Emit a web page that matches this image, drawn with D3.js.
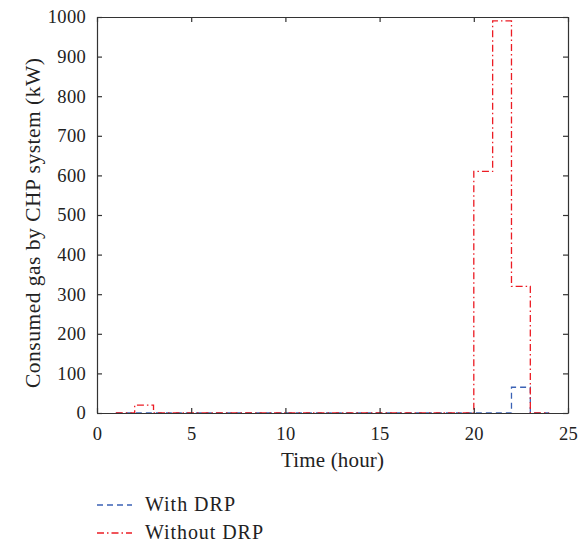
<!DOCTYPE html>
<html>
<head>
<meta charset="utf-8">
<script src="https://cdn.jsdelivr.net/npm/d3@7"></script>
<style>
  body { margin: 0; background: #fff; }
  text { font-family: "Liberation Serif", "DejaVu Serif", serif; fill: #222; }
</style>
</head>
<body>
<svg width="586" height="545"></svg>
<script>
// hours 1..24, stairs plot (value holds until next hour)
const hours = d3.range(1, 25);
const withDRP = [0,0,0,0,0,0,0,0,0,0,0,0,0,0,0,0,0,0,0,0,0,65,0,0];
const withoutDRP = [0,20,0,0,0,0,0,0,0,0,0,0,0,0,0,0,0,0,0,610,990,320,0,0];
const xTicks = [0, 5, 10, 15, 20, 25];
const yTicks = d3.range(0, 1001, 100);

const svg = d3.select("svg");
const mLeft = 97, mRight = 568, mTop = 17, mBottom = 413;

let x = d3.scaleLinear().domain([0, 25]).range([mLeft, mRight]);
let y = d3.scaleLinear().domain([0, 1000]).range([mBottom, mTop]);

let line = d3.line()
  .x((d) => x(d[0]))
  .y((d) => y(d[1]))
  .curve(d3.curveStepAfter);

const series = [
  { name: "With DRP", values: withDRP, color: "#3b62b5", dash: "6,4", w: 90 },
  { name: "Without DRP", values: withoutDRP, color: "#ec1c24", dash: "7,3,1.5,3", w: 118 },
];

series.forEach((s) => {
  svg.append("path")
    .datum(hours.map((h, i) => [h, s.values[i]]))
    .attr("fill", "none")
    .attr("stroke", s.color)
    .attr("stroke-width", 1.3)
    .attr("stroke-dasharray", s.dash)
    .attr("d", line);
});

// box + ticks (inward, matlab style)
const axisColor = "#333";
let gx = svg.append("g").attr("transform", `translate(0,${mBottom})`)
  .call(d3.axisBottom(x).tickValues(xTicks).tickSize(-5).tickPadding(14).tickSizeOuter(0));
let gxt = svg.append("g").attr("transform", `translate(0,${mTop})`)
  .call(d3.axisTop(x).tickValues(xTicks).tickSize(-5).tickFormat("").tickSizeOuter(0));
let gy = svg.append("g").attr("transform", `translate(${mLeft},0)`)
  .call(d3.axisLeft(y).tickValues(yTicks).tickFormat(d3.format("d")).tickSize(-5).tickPadding(11).tickSizeOuter(0));
let gyr = svg.append("g").attr("transform", `translate(${mRight},0)`)
  .call(d3.axisRight(y).tickValues(yTicks).tickSize(-5).tickFormat("").tickSizeOuter(0));

[gx, gxt, gy, gyr].forEach((g) => {
  g.selectAll("path, line").attr("stroke", axisColor).attr("stroke-width", 1.2);
  g.selectAll("text")
    .attr("font-size", 18.5)
    .attr("letter-spacing", 0.3)
    .attr("font-family", "Liberation Serif")
    .attr("fill", "#222");
});

svg.append("text")
  .attr("x", (mLeft + mRight) / 2)
  .attr("y", 467)
  .attr("text-anchor", "middle")
  .attr("font-size", 21)
  .attr("textLength", 103)
  .attr("lengthAdjust", "spacing")
  .text("Time (hour)");

svg.append("text")
  .attr("transform", `translate(40,223) rotate(-90)`)
  .attr("text-anchor", "middle")
  .attr("font-size", 21.5)
  .attr("textLength", 330)
  .attr("lengthAdjust", "spacing")
  .text("Consumed gas by CHP system (kW)");

// legend
let legend = svg.append("g");
series.forEach((s, i) => {
  let ly = 505 + i * 28;
  legend.append("line")
    .attr("x1", 97).attr("x2", 132)
    .attr("y1", ly).attr("y2", ly)
    .attr("stroke", s.color)
    .attr("stroke-width", 1.3)
    .attr("stroke-dasharray", s.dash);
  legend.append("text")
    .attr("x", 145).attr("y", ly + 6)
    .attr("font-size", 20)
    .attr("textLength", s.w)
    .attr("lengthAdjust", "spacing")
    .text(s.name);
});
</script>
</body>
</html>
